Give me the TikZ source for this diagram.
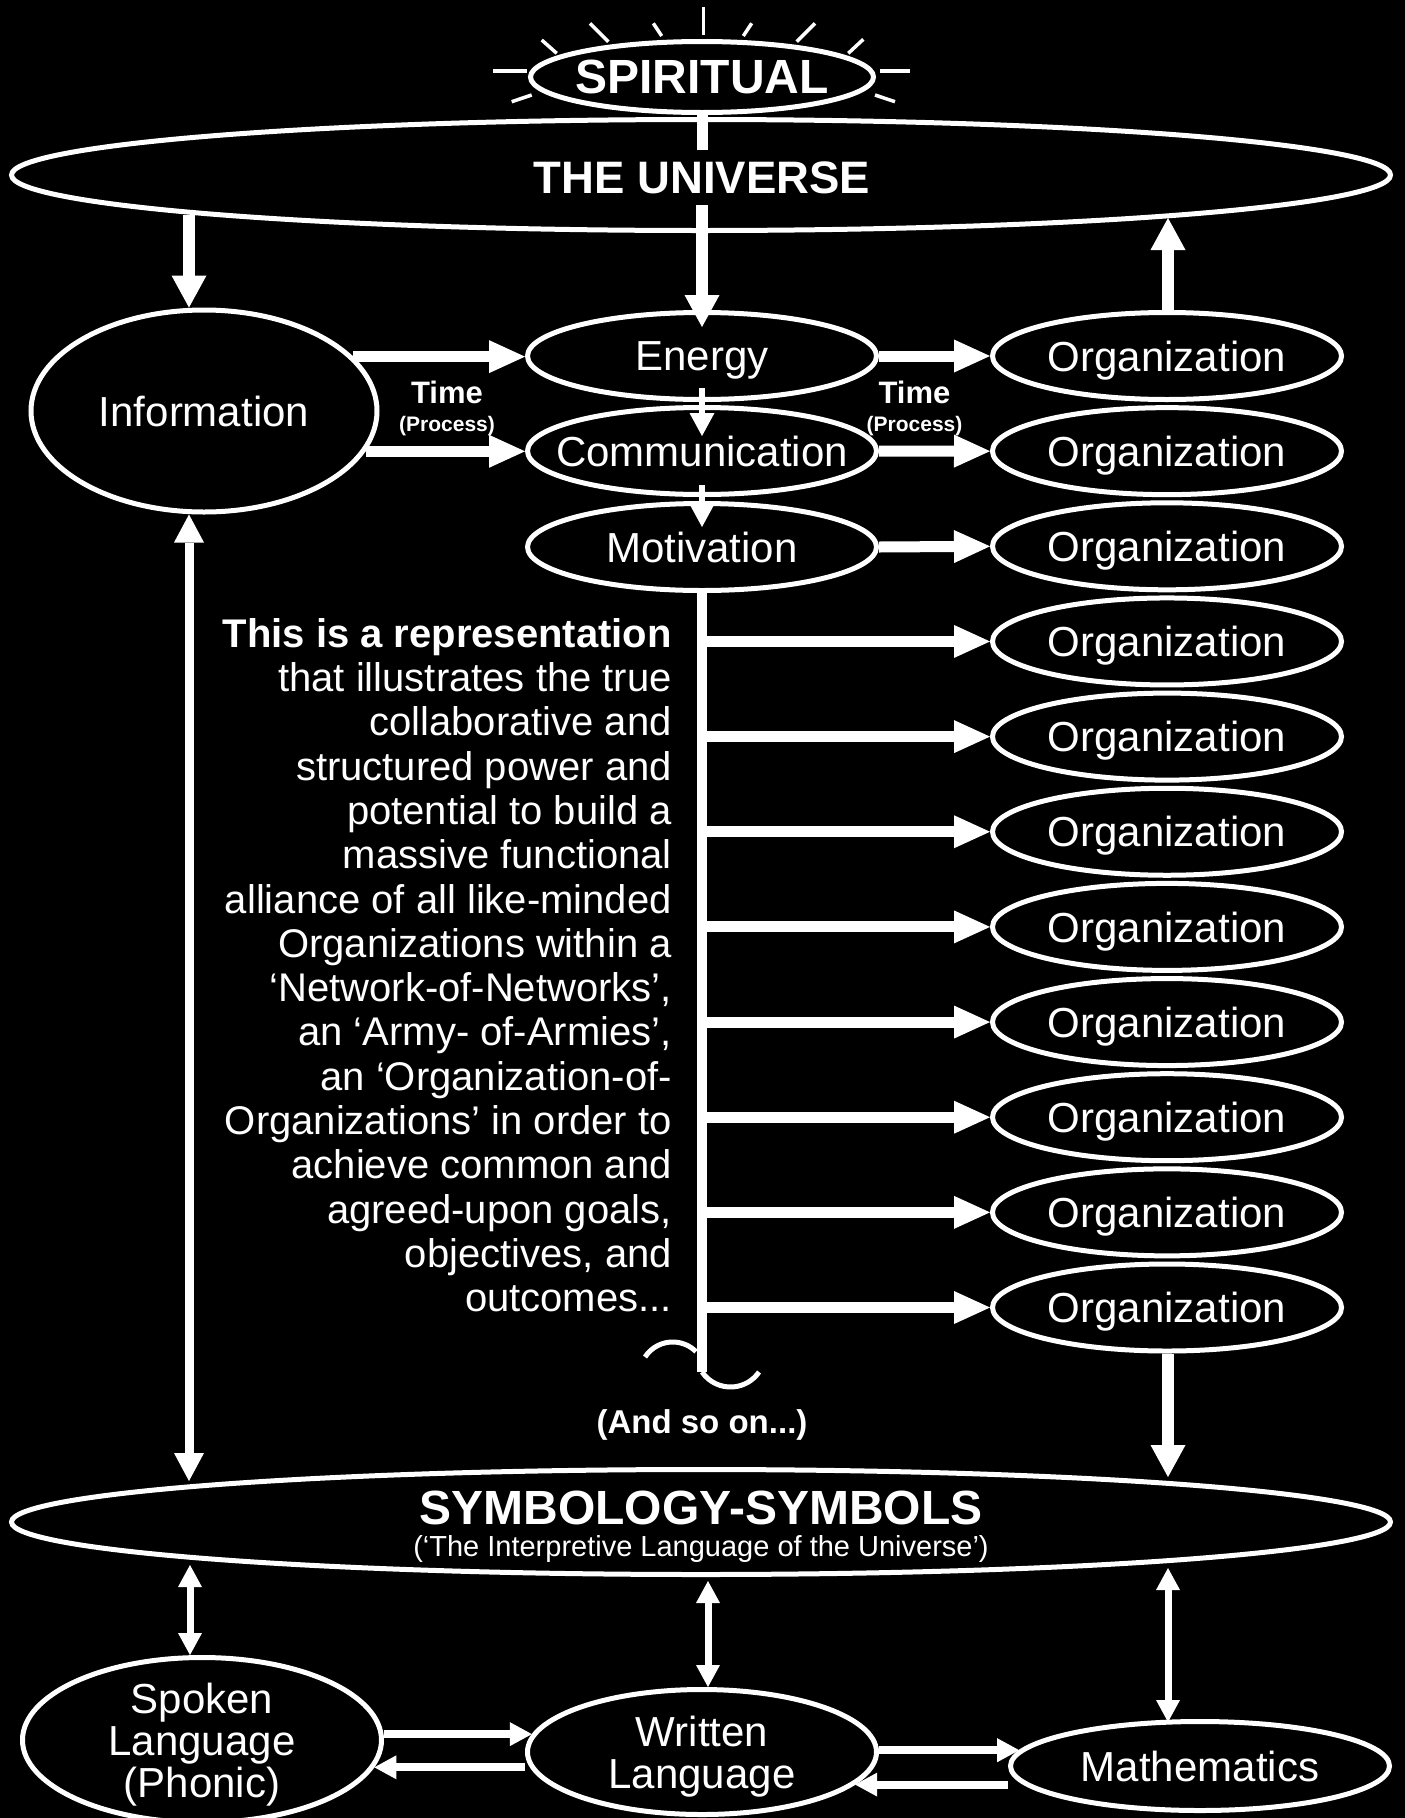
\documentclass[tikz,border=0pt]{standalone}
\usepackage{fontspec}
\setmainfont{Liberation Sans}
\usetikzlibrary{shapes.geometric,arrows.meta,positioning}

\tikzset{
  oval/.style={ellipse, draw=white, line width=5pt, text=white, inner xsep=-200pt, inner ysep=-100pt,
    align=center, text depth=0pt, font=\fontsize{42}{42}\selectfont},
  midoval/.style={oval, minimum width=349pt, minimum height=87pt},
  bigoval/.style={oval, minimum width=1379pt},
  fatarrow/.style={white, line width=11pt, -{Triangle[length=36pt,width=33pt,line width=0pt]}},
  vline/.style={white, line width=11.5pt, -{Triangle[length=32pt,width=35pt,line width=0pt]}},
  vtwo/.style={white, line width=9pt, {Triangle[length=28pt,width=30pt,line width=0pt]}-{Triangle[length=28pt,width=30pt,line width=0pt]}},
  smallarrow/.style={white, line width=6pt, -{Triangle[length=23pt,width=25pt,line width=0pt]}},
  twoway/.style={white, line width=7pt, {Triangle[length=22pt,width=24pt,line width=0pt]}-{Triangle[length=22pt,width=24pt,line width=0pt]}},
  langarrow/.style={white, line width=8pt, -{Triangle[length=22pt,width=24pt,line width=0pt]}},
  ray/.style={white, line width=3.5pt},
  timelbl/.style={text=white, font=\fontsize{31}{31}\selectfont\bfseries},
  proclbl/.style={text=white, font=\fontsize{21}{21}\selectfont\bfseries},
}

\begin{document}
\begin{tikzpicture}[x=1pt, y=-1pt]
% background
\useasboundingbox (0,0) rectangle (1405,1818);
\fill[black] (0,0) rectangle (1405,1818);

% spiritual, with its rays
\node[oval, minimum width=343pt, minimum height=71pt, font=\fontsize{48}{48}\selectfont\bfseries] (spirit) at (702,77) {SPIRITUAL};
\foreach \xa/\ya/\xb/\yb in {541.7/40/556.7/53.3, 590/23.3/608.3/41.7, 653.3/23.3/661.7/36,
    703.3/7.3/703.3/35, 751.7/23.3/743.3/36, 815/23.3/796.7/41.7, 863.3/39.3/848.3/53.3,
    493.3/71/526.7/71, 880/71/910/71, 511.7/101.7/531.7/95, 895/101.7/875/95}
  \draw[ray] (\xa,\ya) -- (\xb,\yb);

% the universe
\node[bigoval, minimum height=111pt] (universe) at (701,175) {};
\node[text=white, font=\fontsize{45.5}{46}\selectfont\bfseries, inner sep=0pt, minimum height=55pt] (unitext) at (702,177.5) {THE UNIVERSE};
\coordinate (uniL) at (189,215);
\coordinate (uniR) at (1168,218);

% first row
\node[oval, minimum width=346pt, minimum height=202pt] (info) at (204,411) {Information};
\node[midoval] (energy) at (702,356) {Energy};
\node[midoval] (comm) at (702,451) {Communication};
\node[midoval] (motiv) at (702,547) {Motivation};

% column of organizations
\foreach \i in {1,...,11}
  \node[midoval] (org\i) at (1167,{356+95.15*(\i-1)}) {Organization};

% arrows from and to the universe
\draw[vline] (uniL) -- (uniL |- info.north);
\draw[white, line width=11pt] (spirit.south) -- (unitext.north);
\draw[vline, shorten >=-17pt] (unitext.south) -- (energy.north);
\draw[vline] (uniR |- org1.north) -- (uniR);

% time arrows
\draw[fatarrow] (info.20.8) -- (info.20.8 -| energy.west);
\draw[fatarrow] (info.-14.1) -- (info.-14.1 -| comm.west);
\draw[fatarrow] (energy.east) -- (org1.west);
\draw[fatarrow] (comm.east) -- (org2.west);
\draw[fatarrow] (motiv.east) -- (org3.west);

\node[timelbl] (time1) at (447,392) {Time};
\node[proclbl] (proc1) at (447,426) {(Process)};
\node[timelbl] (time2) at (914.5,392) {Time};
\node[proclbl] (proc2) at (914.5,426) {(Process)};

\draw[smallarrow] ([yshift=14pt]energy.south) -- ([yshift=-31pt]comm.north);
\draw[smallarrow] ([yshift=12pt]comm.south) -- ([yshift=-26pt]motiv.north);

% trunk with branches
\coordinate (trunkend) at (702,1372);
\foreach \i in {4,...,11}
  \draw[fatarrow] (trunkend |- org\i) -- (org\i.west);
\draw[white, line width=10pt] (motiv.south) -- (trunkend);

% curl at the end of the trunk
\draw[white, line width=5pt] (trunkend) arc[start angle=214.5, end angle=325.5, radius=34.6pt];
\draw[white, line width=5pt] ([xshift=-57pt, yshift=15pt]trunkend) arc[start angle=147, end angle=45, radius=33pt];

\node[text=white, font=\fontsize{33}{33}\selectfont\bfseries] (soon) at (702,1425) {(And so on...)};

% text block
\node[text=white, align=right, anchor=north east, inner sep=0pt, font=\fontsize{40}{44.3}\selectfont] (blurb) at (672,618)
  {\textbf{This is a representation}\\
   that illustrates the true\\
   collaborative and\\
   structured power and\\
   potential to build a\\
   massive functional\\
   alliance of all like-minded\\
   Organizations within a\\
   ‘Network-of-Networks’,\\
   an ‘Army- of-Armies’,\\
   an ‘Organization-of-\\
   Organizations’ in order to\\
   achieve common and\\
   agreed-upon goals,\\
   objectives, and\\
   outcomes...};

% symbology
\node[bigoval, minimum height=105pt] (sym) at (701,1522) {};
\node[text=white, font=\fontsize{48}{48}\selectfont\bfseries] (symtitle) at (701,1508) {SYMBOLOGY-SYMBOLS};
\node[text=white, font=\fontsize{29}{29}\selectfont] (symsub) at (701,1549) {(‘The Interpretive Language of the Universe’)};
\coordinate (symTL) at (189,1481);
\coordinate (symTR) at (1168,1477);
\coordinate (symBL) at (190,1565);
\coordinate (symBM) at (708,1581);
\coordinate (symBR) at (1168,1568);

\draw[vtwo] (symTL |- info.south) -- (symTL);
\draw[vline] (symTR |- org11.south) -- (symTR);

% bottom row
\node[oval, minimum width=359pt, minimum height=165pt] (spoken) at (202,1740) {Spoken\\Language\\(Phonic)};
\node[oval, minimum width=349pt, minimum height=125pt] (written) at (702,1752) {Written\\Language};
\node[oval, minimum width=379pt, minimum height=89pt] (math) at (1200,1766) {Mathematics};

\draw[twoway] (symBL) -- (symBL |- spoken.north);
\draw[twoway] (symBM) -- (symBM |- written.north);
\draw[twoway] (symBR) -- ([yshift=-3pt]symBR |- math.north);

\draw[langarrow] (written.174.9 -| spoken.east) -- (written.174.9);
\draw[langarrow] (spoken.-9.8 -| written.west) -- (spoken.-9.8);
\draw[langarrow] (math.175.7 -| written.east) -- (math.175.7);
\draw[langarrow] (written.-12 -| math.west) -- (written.-12);
\end{tikzpicture}
\end{document}
